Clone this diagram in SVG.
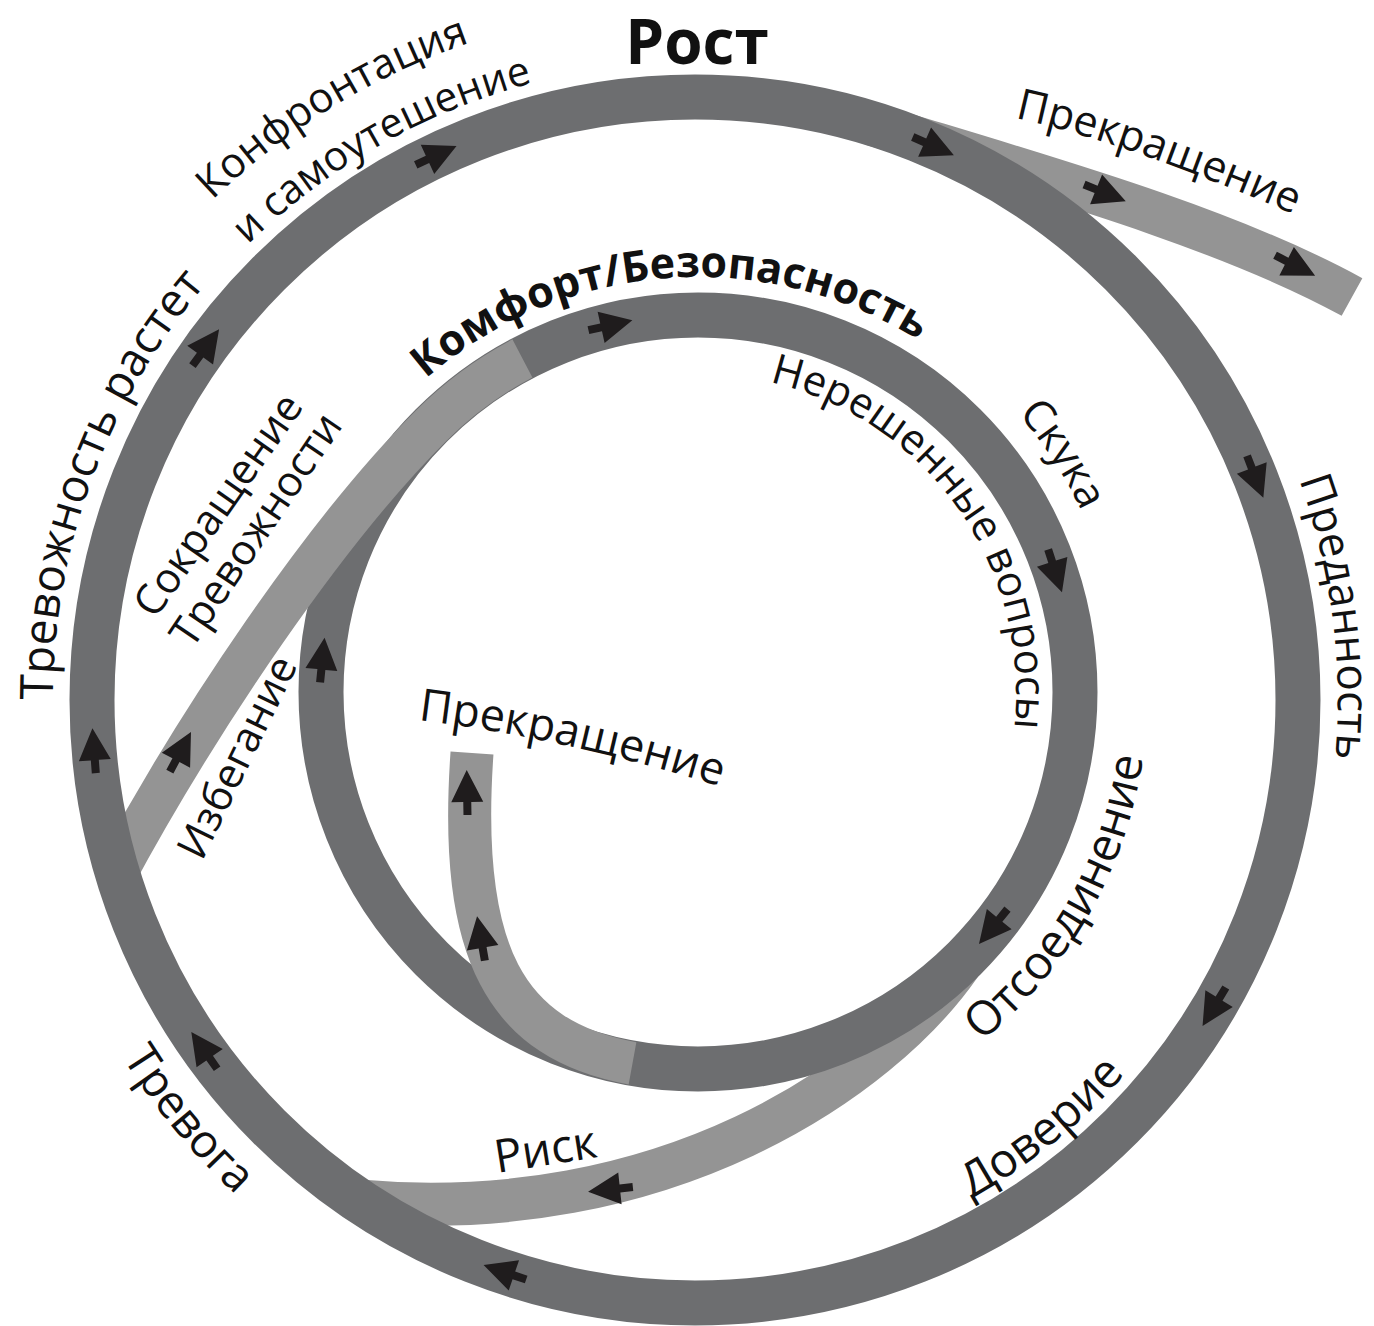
<svg xmlns="http://www.w3.org/2000/svg" width="1374" height="1326" viewBox="0 0 1374 1326">
<style>
.dark{fill:none;stroke:#6d6e70;stroke-width:45}
.light{fill:none;stroke:#949494;stroke-width:43}
.arr{fill:#1f1c1d}
text{font-family:"Open Sans","Noto Sans","DejaVu Sans",sans-serif;fill:#111}
.b{font-weight:700}
</style>
<defs>
<path id="a" class="arr" d="M17 0 L-15 -16 L-15 -4 L-28 -4 L-28 4 L-15 4 L-15 16 Z"/>
<path id="p-konf" d="M 212.3 200.2 A 695 695 0 0 1 815.7 15.6"/>
<path id="p-samo" d="M 247.8 244.9 A 638 638 0 0 1 805.8 71.7"/>
<path id="p-trev" d="M 53 700 A 642 642 0 0 1 374 144"/>
<path id="p-pred" d="M 1299 480 A 643 643 0 0 1 1316 866"/>
<path id="p-dov" d="M 971.3 1198.5 A 570 570 0 0 0 1230.6 895"/>
<path id="p-trevoga" d="M 122.6 1057.7 A 675 675 0 0 0 577.8 1364.7"/>
<path id="p-komf" d="M 425.7 378.8 A 415 415 0 0 1 1015.9 425.2"/>
<path id="p-nere" d="M 769.5 382.1 A 318 318 0 0 1 986.2 826.4"/>
<path id="p-skuka" d="M 1018 413.8 A 424 424 0 0 1 1122 692"/>
<path id="p-ots" d="M 981.2 1041.7 A 450 450 0 0 0 1146.3 652.8"/>
<path id="p-prek1" d="M 1015 118 Q 1120 140 1300 217"/>
<path id="p-prek2" d="M 418 720 Q 580 740 750 796"/>
</defs>
<rect width="1374" height="1326" fill="#ffffff"/>

<g id="connectors-under">
<path id="band-prekr-outer" class="light" d="M 871 124 C 1024 171 1221 225 1352 297"/>
<path id="band-risk" class="light" d="M 960 965 C 880 1080 665 1228 358 1201"/>
</g>

<g id="node-comfort">
<circle class="dark" cx="698" cy="692" r="377"/>
</g>

<g id="connectors-over">
<path id="band-reduce" class="light" d="M 112 880 C 197 722 325 531 431.4 425.4 A 377 377 0 0 1 522.4 358.4"/>
<path id="band-prekr-inner" class="light" d="M 632.5 1063.3 C 505 1040 458 953 472 753"/>
</g>

<g id="node-growth">
<circle class="dark" cx="695" cy="700" r="603"/>
</g>

<g id="arrows">
<use href="#a" transform="translate(695 700) rotate(-114.9) translate(603 0) rotate(90)"/>
<use href="#a" transform="translate(695 700) rotate(-66.2) translate(603 0) rotate(90)"/>
<use href="#a" transform="translate(695 700) rotate(-21.2) translate(603 0) rotate(90)"/>
<use href="#a" transform="translate(695 700) rotate(31.1) translate(603 0) rotate(90)"/>
<use href="#a" transform="translate(695 700) rotate(108.9) translate(603 0) rotate(90)"/>
<use href="#a" transform="translate(695 700) rotate(145) translate(603 0) rotate(90)"/>
<use href="#a" transform="translate(695 700) rotate(175.7) translate(603 0) rotate(90)"/>
<use href="#a" transform="translate(695 700) rotate(-143.7) translate(603 0) rotate(90)"/>
<use href="#a" transform="translate(698 692) rotate(-102.6) translate(377 0) rotate(90)"/>
<use href="#a" transform="translate(698 692) rotate(-17.9) translate(377 0) rotate(90)"/>
<use href="#a" transform="translate(698 692) rotate(39.3) translate(377 0) rotate(90)"/>
<use href="#a" transform="translate(698 692) rotate(185.7) translate(377 0) rotate(90)"/>
<use href="#a" transform="translate(1110 195) rotate(22)"/>
<use href="#a" transform="translate(1300 268) rotate(27)"/>
<use href="#a" transform="translate(183 747) rotate(-62)"/>
<use href="#a" transform="translate(605 1190) rotate(174)"/>
<use href="#a" transform="translate(467 787) rotate(-91)"/>
<use href="#a" transform="translate(480 933) rotate(-100)"/>
</g>

<g id="labels">
<text x="697" y="64" text-anchor="middle" class="b" font-size="62">Рост</text>
<text font-size="42"><textPath href="#p-konf">Конфронтация</textPath></text>
<text font-size="41"><textPath href="#p-samo">и самоутешение</textPath></text>
<text font-size="46"><textPath href="#p-trev">Тревожность растет</textPath></text>
<text font-size="44"><textPath href="#p-pred">Преданность</textPath></text>
<text font-size="47"><textPath href="#p-dov">Доверие</textPath></text>
<text font-size="46"><textPath href="#p-trevoga">Тревога</textPath></text>
<text class="b" font-size="43"><textPath href="#p-komf">Комфорт/Безопасность</textPath></text>
<text font-size="42"><textPath href="#p-nere">Нерешенные вопросы</textPath></text>
<text font-size="43"><textPath href="#p-skuka">Скука</textPath></text>
<text font-size="47"><textPath href="#p-ots">Отсоединение</textPath></text>
<text font-size="43"><textPath href="#p-prek1">Прекращение</textPath></text>
<text font-size="45"><textPath href="#p-prek2">Прекращение</textPath></text>
<text font-size="42" transform="translate(155 620) rotate(-55)">Сокращение</text>
<text font-size="42" transform="translate(192 650) rotate(-56)">Тревожности</text>
<text font-size="42" transform="translate(202 862) rotate(-64)">Избегание</text>
<text font-size="46" transform="translate(497 1173) rotate(-9)">Риск</text>
</g>
</svg>
